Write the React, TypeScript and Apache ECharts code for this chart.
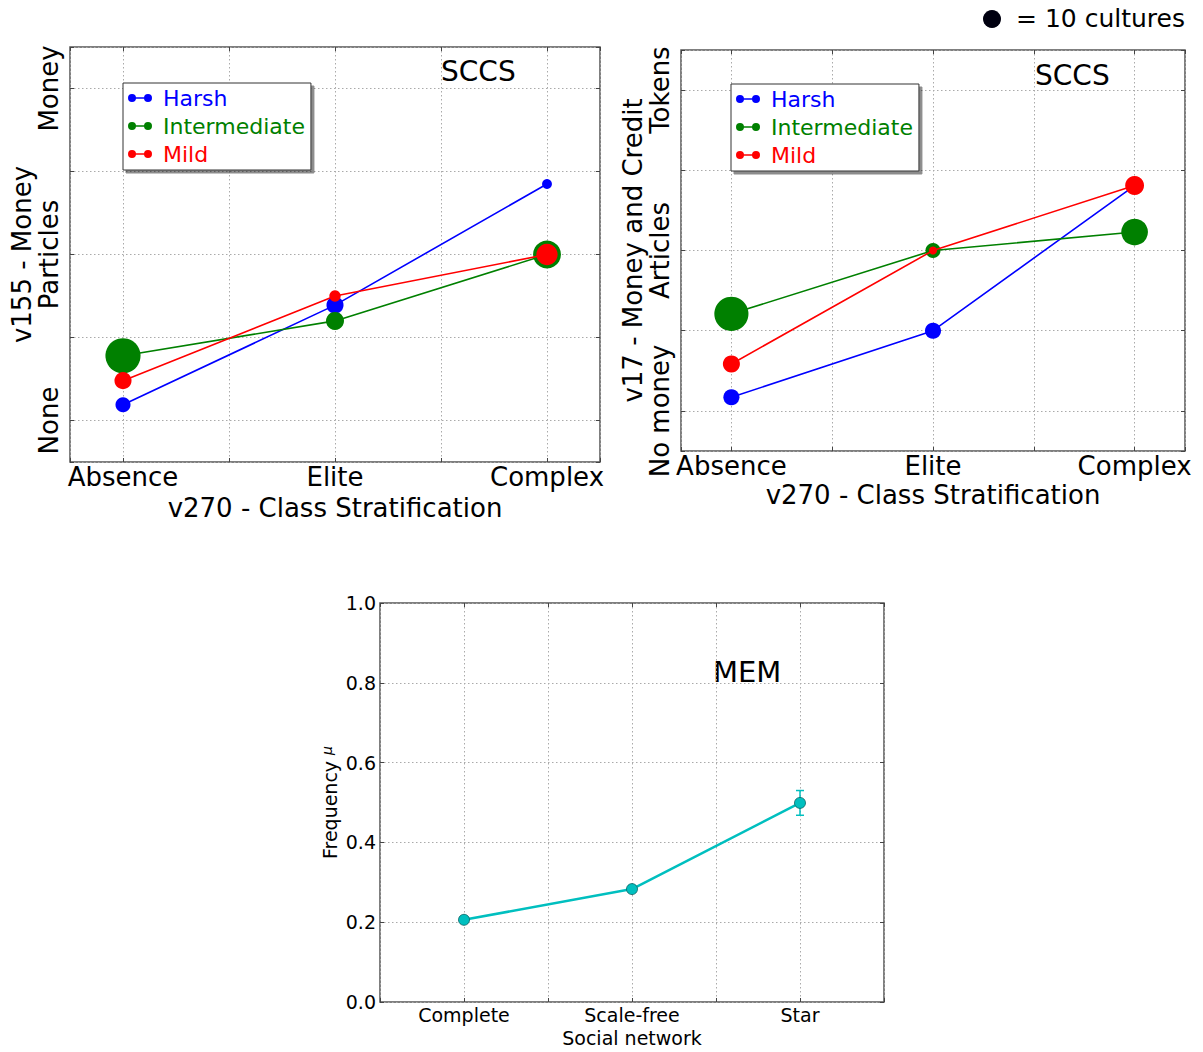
import React, { useEffect, useRef } from "react";
import * as echarts from "echarts";

// ---------- data ----------
const stratCategories = ["Absence", "Elite", "Complex"];
const moneyLevels155 = ["None", "", "Particles", "", "Money"];
const moneyLevels17 = ["No money", "", "Articles", "", "Tokens"];
const groups = ["Harsh", "Intermediate", "Mild"];
const groupColors = ["#0000ff", "#008000", "#ff0000"];

// v155 panel (mean level per class stratification)
const harsh155 = [0.19, 1.39, 2.85];
const intermediate155 = [0.78, 1.2, 2.0];
const mild155 = [0.48, 1.5, 2.0];
// number of cultures behind each point (marker area)
const harshCount155 = [7, 9, 3];
const intermediateCount155 = [38, 10, 24];
const mildCount155 = [9, 4, 14];

// v17 panel
const harsh17 = [0.17, 1.0, 2.81];
const intermediate17 = [1.21, 2.0, 2.23];
const mild17 = [0.585, 2.0, 2.81];
const harshCount17 = [8, 8, 3];
const intermediateCount17 = [36, 7, 22];
const mildCount17 = [9, 2, 11];

// MEM panel
const networks = ["Complete", "Scale-free", "Star"];
const memFrequency = [0.206, 0.283, 0.499];
const memError = [0.004, 0.005, 0.031];

const FONT = "DejaVu Sans";

export default function App() {
  const ref = useRef<HTMLDivElement>(null);

  useEffect(() => {
    if (!ref.current) return;
    const chart = echarts.init(ref.current, undefined, { renderer: "svg" });

    const dotSize = (count: number) => 18 * Math.sqrt(count / 10);

    const tickStyle = { show: true, inside: true, length: 4, lineStyle: { color: "#444", width: 1 } };
    const gridLine = { show: true, lineStyle: { color: "#aaa", type: [1.5, 2.5], width: 1 } };
    const noLine = { show: false, onZero: false };

    const catFormatter = (labels: string[]) => (v: number) => {
      const r = Math.round(v);
      if (Math.abs(v - r) > 1e-6) return "";
      return labels[r] ?? "";
    };

    const mkX = (grid: number, min: number, max: number, labels: string[], name: string, fs: number, margin: number, nameGap: number) => [
      {
        type: "value", gridIndex: grid, min, max, splitNumber: Math.round((max - min) * 2),
        axisLine: noLine, axisTick: tickStyle, splitLine: gridLine,
        axisLabel: { formatter: catFormatter(labels), fontSize: fs, lineHeight: fs, fontFamily: FONT, color: "#000", margin, showMinLabel: true, showMaxLabel: true },
        name, nameLocation: "middle", nameGap, nameTextStyle: { fontSize: fs, lineHeight: fs, fontFamily: FONT, color: "#000" },
      },
      {
        type: "value", gridIndex: grid, min, max, splitNumber: Math.round((max - min) * 2), position: "top",
        axisLine: noLine, axisTick: tickStyle, splitLine: { show: false }, axisLabel: { show: false },
      },
    ];

    const mkYcat = (grid: number, labels: string[], name: string, nameGap: number) => [
      {
        type: "value", gridIndex: grid, min: -0.5, max: 4.5, splitNumber: 5,
        axisLine: noLine, axisTick: tickStyle, splitLine: gridLine,
        axisLabel: { formatter: catFormatter(labels), rotate: 90, fontSize: 26, fontFamily: FONT, color: "#000", margin: 8 },
        name, nameLocation: "middle", nameGap, nameTextStyle: { fontSize: 26, fontFamily: FONT, color: "#000" },
      },
      {
        type: "value", gridIndex: grid, min: -0.5, max: 4.5, splitNumber: 5, position: "right",
        axisLine: noLine, axisTick: tickStyle, splitLine: { show: false }, axisLabel: { show: false },
      },
    ];

    const xAxes = [
      ...mkX(0, -0.25, 2.25, stratCategories, "v270 - Class Stratification", 26, 2, 33),
      ...mkX(1, -0.25, 2.25, stratCategories, "v270 - Class Stratification", 26, 2, 31),
      ...mkX(2, -0.5, 2.5, networks, "Social network", 19, 3, 26),
    ];
    const yAxes = [
      ...mkYcat(0, moneyLevels155, "v155 - Money", 35),
      ...mkYcat(1, moneyLevels17, "v17 - Money and Credit", 35),
      {
        type: "value", gridIndex: 2, min: 0, max: 1, interval: 0.2,
        axisLine: noLine, axisTick: tickStyle, splitLine: gridLine,
        axisLabel: { formatter: (v: number) => v.toFixed(1), fontSize: 19, fontFamily: FONT, color: "#000", margin: 4 },
        name: "{a|Frequency }{b|μ}", nameLocation: "middle", nameGap: 40,
        nameTextStyle: {
          fontSize: 19, fontFamily: FONT, color: "#000",
          rich: { a: { fontSize: 19, fontFamily: FONT, color: "#000" }, b: { fontSize: 14, fontStyle: "italic", fontFamily: FONT, color: "#000", padding: [0, 0, 6, 0] } },
        },
      },
      {
        type: "value", gridIndex: 2, min: 0, max: 1, interval: 0.2, position: "right",
        axisLine: noLine, axisTick: tickStyle, splitLine: { show: false }, axisLabel: { show: false },
      },
    ];

    const sccsSeries = (xi: number, yi: number, vals: number[][], counts: number[][]) =>
      groups.map((g, gi) => ({
        name: g, type: "line", xAxisIndex: xi, yAxisIndex: yi,
        data: vals[gi].map((v, i) => [i, v]),
        symbol: "circle",
        symbolSize: (_v: any, p: any) => dotSize(counts[gi][p.dataIndex]),
        color: groupColors[gi],
        itemStyle: { color: groupColors[gi], borderWidth: 0 },
        lineStyle: { color: groupColors[gi], width: 1.6 },
        z: 3 + gi,
      }));

    const legendBase = {
      orient: "vertical", icon: "path://M5,0A5,5,0,1,1,5,10A5,5,0,1,1,5,0ZM5,4.2H25V5.8H5ZM25,0A5,5,0,1,1,25,10A5,5,0,1,1,25,0Z",
      itemWidth: 24, itemHeight: 8, itemGap: 2, padding: [2, 6, 3, 5],
      backgroundColor: "#fff", borderColor: "#333", borderWidth: 1, borderRadius: 0,
      shadowColor: "rgba(0,0,0,0.45)", shadowBlur: 0, shadowOffsetX: 3, shadowOffsetY: 3,
      selectedMode: false,
      textStyle: { fontSize: 22, lineHeight: 26, fontFamily: FONT, padding: [0, 0, 0, 6] },
      data: groups.map((g, gi) => ({ name: g, textStyle: { color: groupColors[gi] } })),
    };

    const option: any = {
      animation: false,
      backgroundColor: "#fff",
      grid: [
        { left: 70, top: 47, width: 530, height: 415, show: true, borderColor: "#555", borderWidth: 1.5, backgroundColor: "transparent" },
        { left: 681, top: 50, width: 504, height: 401, show: true, borderColor: "#555", borderWidth: 1.5, backgroundColor: "transparent" },
        { left: 380, top: 603, width: 504, height: 399, show: true, borderColor: "#555", borderWidth: 1.5, backgroundColor: "transparent" },
      ],
      xAxis: xAxes,
      yAxis: yAxes,
      legend: [
        { ...legendBase, left: 123, top: 83 },
        { ...legendBase, left: 731, top: 84 },
      ],
      graphic: [
        { type: "text", left: 441, top: 57, style: { text: "SCCS", fontSize: 28, fontFamily: FONT, fill: "#000" } },
        { type: "text", left: 1035, top: 61, style: { text: "SCCS", fontSize: 28, fontFamily: FONT, fill: "#000" } },
        { type: "text", left: 713, top: 657, style: { text: "MEM", fontSize: 29, fontFamily: FONT, fill: "#000" } },
        { type: "circle", shape: { cx: 992, cy: 19, r: 9 }, style: { fill: "#00000f" } },
        { type: "text", left: 1016, top: 6, style: { text: "= 10 cultures", fontSize: 25, fontFamily: FONT, fill: "#000" } },
      ],
      series: [
        ...sccsSeries(0, 0, [harsh155, intermediate155, mild155], [harshCount155, intermediateCount155, mildCount155]),
        ...sccsSeries(2, 2, [harsh17, intermediate17, mild17], [harshCount17, intermediateCount17, mildCount17]),
        {
          name: "MEM error", type: "custom", xAxisIndex: 4, yAxisIndex: 4, z: 2,
          data: memFrequency.map((v, i) => [i, v - memError[i], v + memError[i]]),
          renderItem: (_p: any, api: any) => {
            const x = api.value(0);
            const top = api.coord([x, api.value(2)]);
            const bot = api.coord([x, api.value(1)]);
            const st = { stroke: "#00bfbf", lineWidth: 1.5 };
            return {
              type: "group",
              children: [
                { type: "line", shape: { x1: top[0], y1: top[1], x2: bot[0], y2: bot[1] }, style: st },
                { type: "line", shape: { x1: top[0] - 4, y1: top[1], x2: top[0] + 4, y2: top[1] }, style: st },
                { type: "line", shape: { x1: bot[0] - 4, y1: bot[1], x2: bot[0] + 4, y2: bot[1] }, style: st },
              ],
            };
          },
        },
        {
          name: "MEM", type: "line", xAxisIndex: 4, yAxisIndex: 4, z: 3,
          data: memFrequency.map((v, i) => [i, v]),
          symbol: "circle", symbolSize: 11,
          itemStyle: { color: "#00bfbf", borderColor: "#0a5f5f", borderWidth: 0.8 },
          lineStyle: { color: "#00bfbf", width: 2.5 },
        },
      ],
    };

    chart.setOption(option);
    return () => chart.dispose();
  }, []);

  return <div ref={ref} style={{ position: "absolute", left: 0, top: 0, width: 1203, height: 1052 }} />;
}
